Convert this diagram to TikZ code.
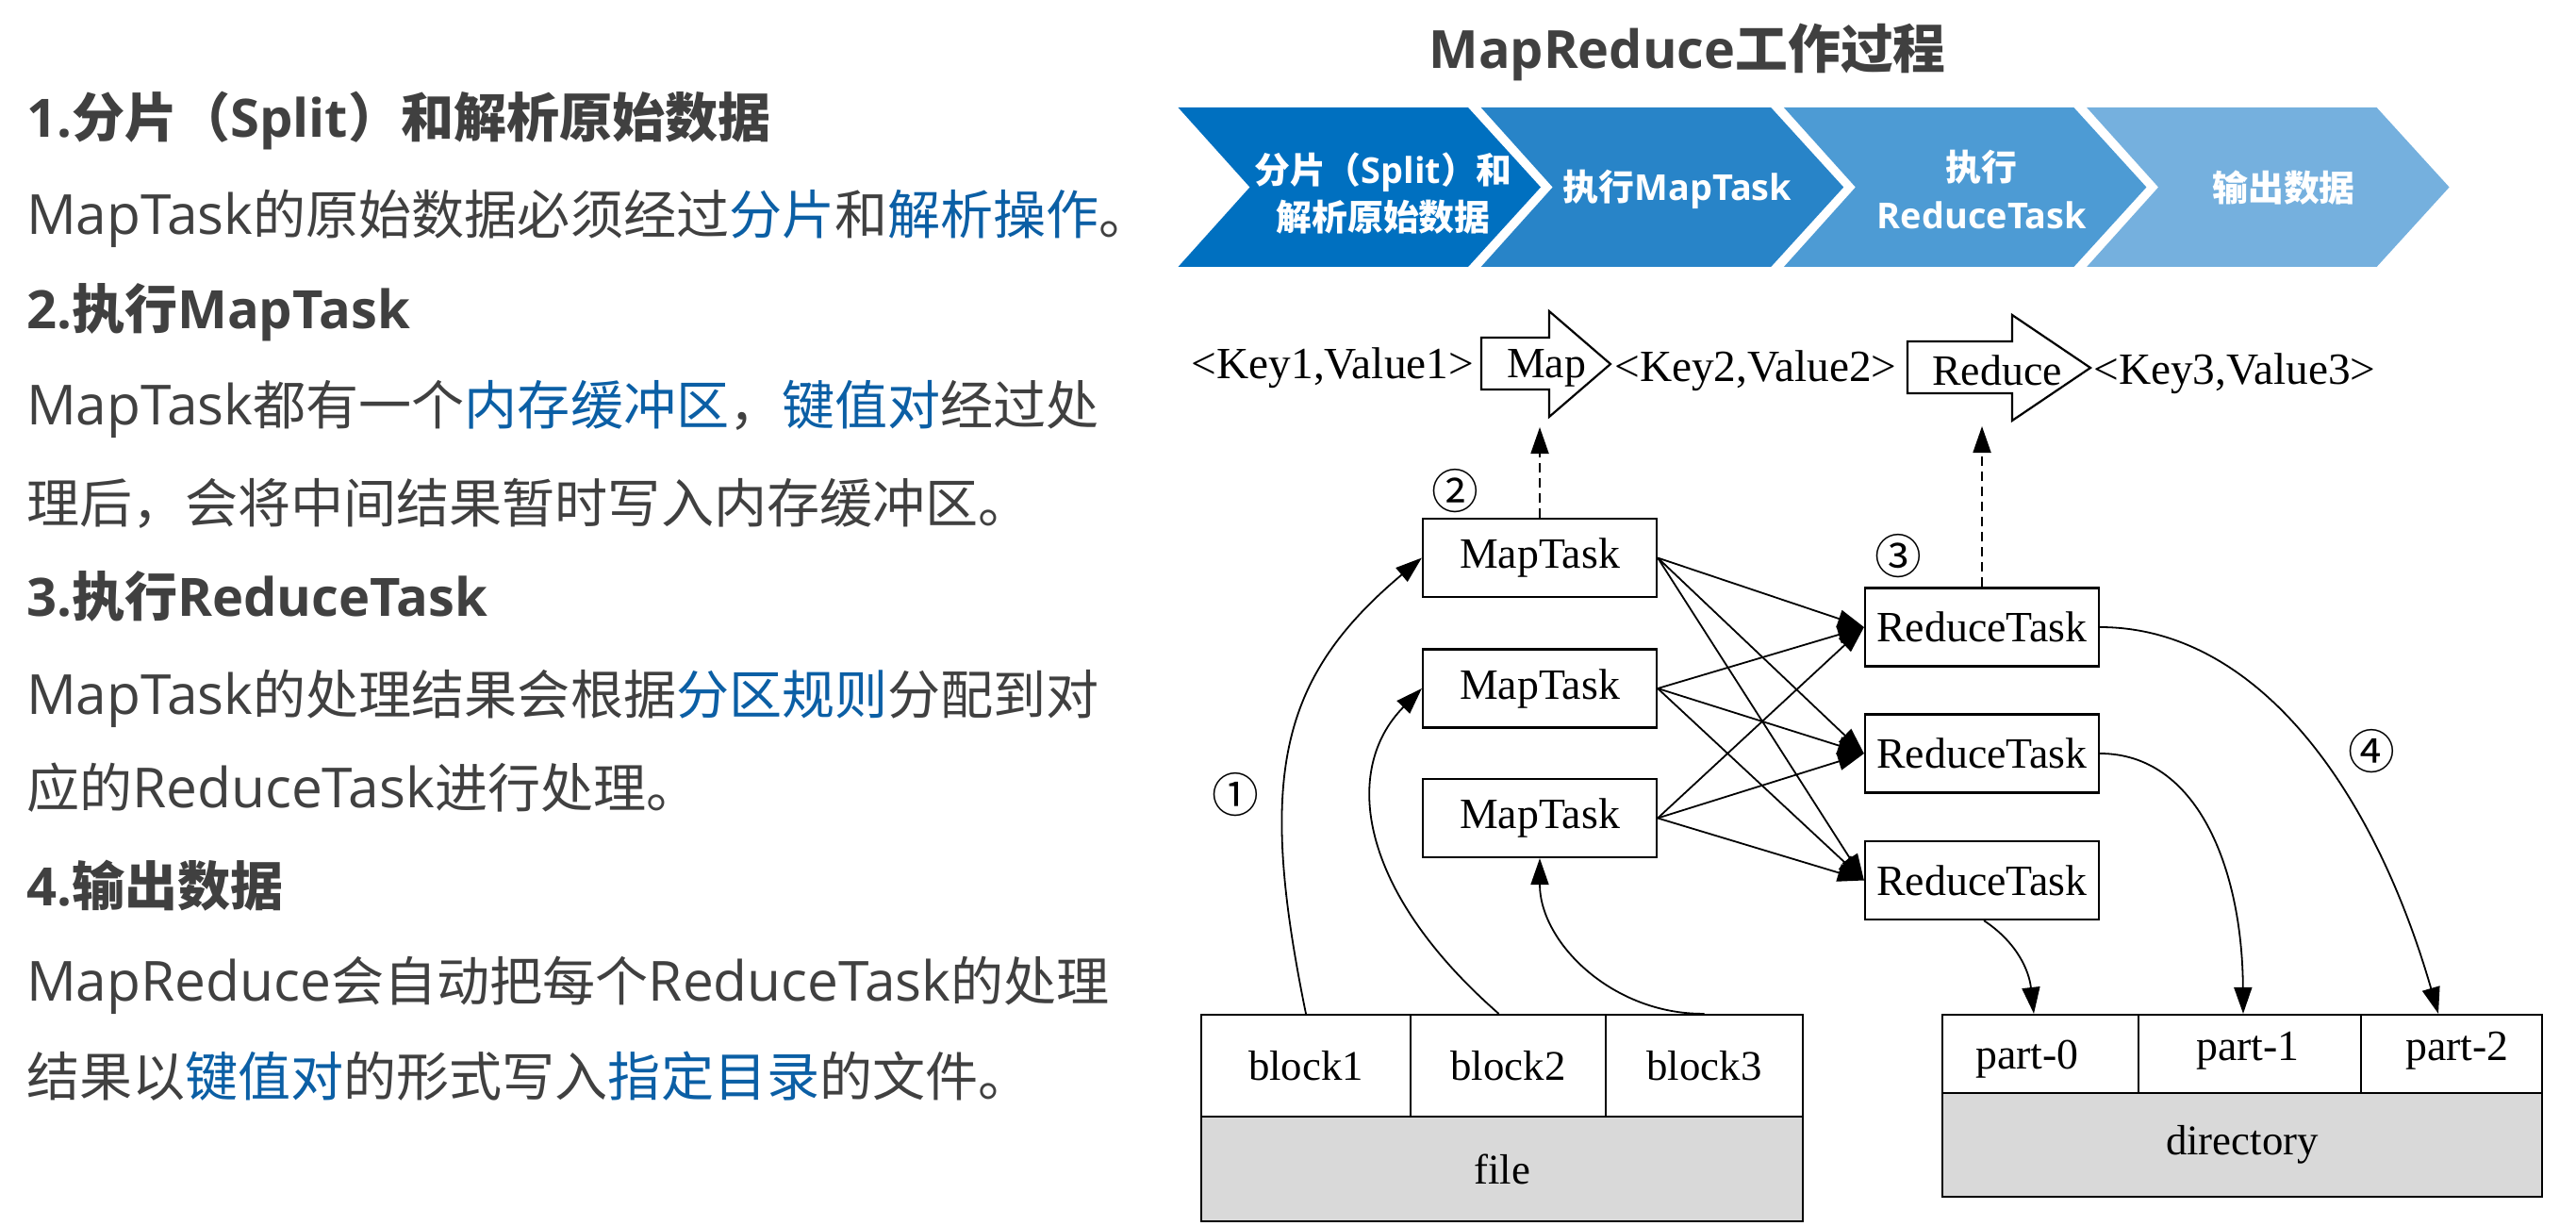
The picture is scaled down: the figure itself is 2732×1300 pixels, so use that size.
\documentclass[tikz,border=0pt]{standalone}
\usepackage{fontspec}
\setmainfont{Liberation Serif}
\newfontfamily\cjk{Noto Sans CJK SC}
\newfontfamily\latf{Open Sans}
\newfontfamily\latr[Scale=1.045]{Open Sans}
\usetikzlibrary{arrows.meta}
\definecolor{txtgray}{HTML}{404040}
\definecolor{hlblue}{HTML}{0B5FA5}
\definecolor{chA}{HTML}{0070C0}
\definecolor{chB}{HTML}{2884C8}
\definecolor{chC}{HTML}{4D9BD4}
\definecolor{chD}{HTML}{75B0DE}
\definecolor{cellgray}{HTML}{D9D9D9}
\newcommand\mylat[1]{{\latf #1}}
\newcommand\mylatr[1]{{\latr #1}}
\newcommand\myhl[1]{\textcolor{hlblue}{#1}}
\begin{document}
\begin{tikzpicture}[x=1bp,y=-1bp,
  bodytxt/.style={anchor=base west, inner sep=0, outer sep=0, text=txtgray, font=\cjk\fontsize{56.3}{60}\selectfont},
  headtxt/.style={bodytxt, font=\cjk\bfseries\fontsize{56.3}{60}\selectfont},
  chevtxt/.style={anchor=base, inner sep=0, text=white, font=\cjk\bfseries\fontsize{38}{40}\selectfont},
  task/.style={draw, line width=2.2bp, minimum width=248bp, minimum height=83bp, inner sep=0, font=\fontsize{46}{50}\selectfont},
  cell/.style={draw, line width=2.2bp, inner sep=0, font=\fontsize{45}{50}\selectfont},
  serif/.style={inner sep=0, font=\fontsize{46}{50}\selectfont},
  kvtxt/.style={inner sep=0, font=\fontsize{47.5}{50}\selectfont},
  circnum/.style={inner sep=0, font=\cjk\fontsize{50}{50}\selectfont},
  edge/.style={line width=1.8bp, -{Triangle[length=28bp,width=19bp]}},
  dashedge/.style={edge, dash pattern=on 10bp off 6bp}
]
\fill[white] (0,0) rectangle (2732,1300);
\useasboundingbox (0,0) rectangle (2732,1300);

% ---------- left text ----------
\node[headtxt] (l1) at (28,146) {\mylat{1.}分片（\mylat{Split}）和解析原始数据};
\node[bodytxt] (l2) at (28,249) {\mylatr{MapTask}的原始数据必须经过\myhl{分片}和\myhl{解析操作}。};
\node[headtxt] (l3) at (28,349) {\mylat{2.}执行\mylat{MapTask}};
\node[bodytxt] (l4) at (28,450) {\mylatr{MapTask}都有一个\myhl{内存缓冲区}，\myhl{键值对}经过处};
\node[bodytxt] (l5) at (28,554) {理后，会将中间结果暂时写入内存缓冲区。};
\node[headtxt] (l6) at (28,653) {\mylat{3.}执行\mylat{ReduceTask}};
\node[bodytxt] (l7) at (28,757) {\mylatr{MapTask}的处理结果会根据\myhl{分区规则}分配到对};
\node[bodytxt] (l8) at (28,856) {应的\mylatr{ReduceTask}进行处理。};
\node[headtxt] (l9) at (28,960) {\mylat{4.}输出数据};
\node[bodytxt] (l10) at (28,1061) {\mylatr{MapReduce}会自动把每个\mylatr{ReduceTask}的处理};
\node[bodytxt] (l11) at (28,1162) {结果以\myhl{键值对}的形式写入\myhl{指定目录}的文件。};

% ---------- title ----------
\node[anchor=base, inner sep=0, text=txtgray, font=\cjk\bfseries\fontsize{56}{60}\selectfont] (title) at (1789.5,72.5) {\mylat{MapReduce}工作过程};

% ---------- chevrons ----------
\foreach \L/\c in {1249.5/chA, 1570.7/chB, 1891.9/chC, 2213.1/chD}
  \fill[\c] (\L,114) -- (\L+307.5,114) -- (\L+384.5,198.5) -- (\L+307.5,283) -- (\L,283) -- (\L+76,198.5) -- cycle;
\node[chevtxt] (c1a) at (1467,194.5) {分片（\mylat{Split}）和};
\node[chevtxt] (c1b) at (1467,244.5) {解析原始数据};
\node[chevtxt] (c2) at (1779,212.5) {执行\mylat{MapTask}};
\node[chevtxt] (c3a) at (2101,191.5) {执行};
\node[chevtxt] (c3b) at (2102,242.5) {\mylat{ReduceTask}};
\node[chevtxt] (c4) at (2422,213.5) {输出数据};

% ---------- key/value row ----------
\draw[line width=2.2bp, fill=white] (1571,358) -- (1643,358) -- (1643,330) -- (1708,386) -- (1643,442) -- (1643,413) -- (1571,413) -- cycle;
\draw[line width=2.2bp, fill=white] (2023,362) -- (2134,362) -- (2134,334) -- (2217,390) -- (2134,446) -- (2134,417) -- (2023,417) -- cycle;
\node[kvtxt] (kv1) at (1413.5,390) {<Key1,Value1>};
\node[serif] (maplbl) at (1640,390) {Map};
\node[kvtxt] (kv2) at (1862,393) {<Key2,Value2>};
\node[serif] (redlbl) at (2118,393) {Reduce};
\node[kvtxt] (kv3) at (2370,396) {<Key3,Value3>};
\coordinate (mapin) at (1633,453);
\coordinate (redin) at (2102,452);

% ---------- tasks ----------
\node[task] (mt1) at (1633,591.5) {MapTask};
\node[task] (mt2) at (1633,730) {MapTask};
\node[task] (mt3) at (1633,867.5) {MapTask};
\node[task] (rt1) at (2102,665) {ReduceTask};
\node[task] (rt2) at (2102,799) {ReduceTask};
\node[task] (rt3) at (2102,933.5) {ReduceTask};

\node[circnum] (n1) at (1310,843) {①};
\node[circnum] (n2) at (1543,521) {②};
\node[circnum] (n3) at (2013,590) {③};
\node[circnum] (n4) at (2515,797) {④};

\draw[dashedge] (mt1.north) -- (mapin);
\draw[dashedge] (rt1.north) -- (redin);

\foreach \i in {1,2,3}
  \foreach \j in {1,2,3}
    \draw[edge] (mt\i.east) -- (rt\j.west);

% ---------- file ----------
\node[cell, minimum width=222bp, minimum height=108bp] (b1) at (1385,1130) {block1};
\node[cell, minimum width=207bp, minimum height=108bp] (b2) at (1599.5,1130) {block2};
\node[cell, minimum width=209bp, minimum height=108bp] (b3) at (1807.5,1130) {block3};
\node[cell, fill=cellgray, minimum width=638bp, minimum height=111bp] (file) at (1593,1239.5) {file};

% ---------- directory ----------
\node[cell, minimum width=208bp, minimum height=83bp] (pc0) at (2164,1117.5) {};
\node[cell, minimum width=236bp, minimum height=83bp] (pc1) at (2386,1117.5) {};
\node[cell, minimum width=192bp, minimum height=83bp] (pc2) at (2600,1117.5) {};
\node[cell, fill=cellgray, minimum width=636bp, minimum height=110bp] (dir) at (2378,1214) {directory};
\node[serif, anchor=base] (p0) at (2150,1133) {part-0};
\node[serif, anchor=base] (p1) at (2384,1124) {part-1};
\node[serif, anchor=base] (p2) at (2606,1124) {part-2};

% ---------- curved connectors ----------
\draw[edge] (b1.north) .. controls (1334,826) and (1355,720) .. (mt1.west);
\draw[edge] ([xshift=-10bp]b2.north) .. controls (1440,944) and (1423,816) .. (mt2.west);
\draw[edge] (b3.north) .. controls (1711,1076) and (1633,1000) .. (mt3.south);
\draw[edge] (rt1.east) .. controls (2390,665) and (2515,830) .. ([xshift=-14bp]pc2.north);
\draw[edge] (rt2.east) .. controls (2330,799) and (2378,920) .. ([xshift=-7bp]pc1.north);
\draw[edge] ([xshift=2bp]rt3.south) .. controls (2140,1000) and (2152,1030) .. ([xshift=-7bp]pc0.north);
\end{tikzpicture}
\end{document}
